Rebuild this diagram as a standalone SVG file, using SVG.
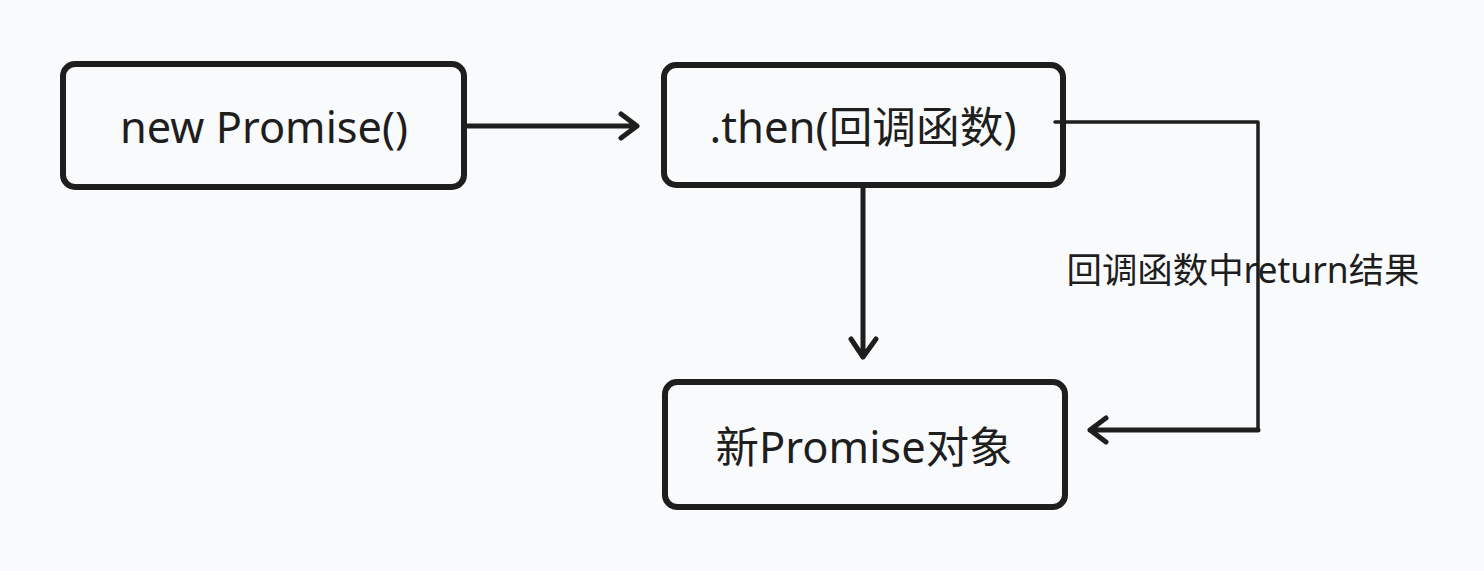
<svg xmlns="http://www.w3.org/2000/svg" width="1484" height="571" viewBox="0 0 1484 571">
<style>
.box{fill:none;stroke:#1e1e1e;stroke-width:6;}
.t{font-family:"Noto Sans","Noto Sans CJK SC",sans-serif;fill:#1e1e1e;text-anchor:middle;}
.c{fill:none;stroke:#1e1e1e;stroke-linecap:round;stroke-linejoin:round;}
</style>
<rect width="1484" height="571" fill="#f9fafb"/>
<g id="n1">
<rect class="box" x="63" y="64" width="401" height="123" rx="12"/>
<text class="t" x="264" y="143" font-size="43" textLength="288" lengthAdjust="spacingAndGlyphs">new Promise()</text>
</g>
<g id="n2">
<rect class="box" x="664" y="65" width="399" height="120" rx="12"/>
<text class="t" x="863" y="143" font-size="43" textLength="307" lengthAdjust="spacingAndGlyphs">.then(回调函数)</text>
</g>
<g id="n3">
<rect class="box" x="665" y="382" width="400" height="125" rx="12"/>
<text class="t" x="864" y="463" font-size="43" textLength="297" lengthAdjust="spacingAndGlyphs">新Promise对象</text>
</g>
<g id="connectors">
<path class="c" stroke-width="5" d="M468 126 L637 126 M621 114 L637 126 L621 138"/>
<path class="c" stroke-width="5" d="M863 189 L863 357 M851 339 L863 357 L876 339"/>
<path class="c" stroke-width="3.5" d="M1055 122 L1258 122 L1258 430"/>
<path class="c" stroke-width="5" d="M1258 430 L1090 430 M1106 418 L1090 430 L1106 442"/>
<text class="t" x="1243" y="283" font-size="35.5" textLength="353" lengthAdjust="spacingAndGlyphs">回调函数中return结果</text>
</g>
</svg>
